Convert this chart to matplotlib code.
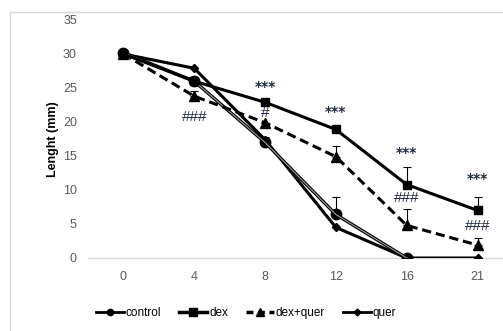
import matplotlib
matplotlib.use('Agg')
import matplotlib.pyplot as plt
from matplotlib.patches import Rectangle
from matplotlib.lines import Line2D

# data (control has no point at day 21)
days = ['0', '4', '8', '12', '16', '21']
control = [30.2, 26.0, 17.0, 6.4, 0.0, float('nan')]
dex = [30.0, 26.0, 22.9, 18.9, 10.8, 7.0]
dex_quer = [30.0, 23.8, 19.9, 14.9, 4.8, 1.9]
quer = [30.0, 27.9, 17.4, 4.5, 0.0, 0.0]

# upper error bars only
control_err = [0, 0, 0.8, 2.6, 0, 0]
dex_err = [0, 0, 0, 0, 2.6, 2.0]
dex_quer_err = [0, 0.8, 0, 1.6, 2.4, 1.0]

stars = ['', '', '***', '***', '***', '***']
stars_y = [0, 0, 25.2, 21.4, 15.5, 11.6]
hashes = ['', '###', '#', '', '###', '###']
hashes_y = [0, 20.7, 21.3, 0, 8.8, 4.7]

W, H = 503, 331
fig = plt.figure(figsize=(W / 100, H / 100), dpi=100)
plt.rcParams['font.family'] = ['Liberation Sans', 'DejaVu Sans']

# outer light border of the chart area
fig.patches.append(Rectangle((10 / W, -0.1), 1.2, (H - 12) / H + 0.1,
                             transform=fig.transFigure, fill=False,
                             edgecolor='#d9d9d9', linewidth=1))

ax = fig.add_axes([88 / W, (H - 258) / H, (W - 88) / W, 238 / H])
x = list(range(len(days)))

ax.errorbar(x, control, yerr=[[0] * 6, control_err], fmt='none', ecolor='black',
            elinewidth=0.8, capsize=3, capthick=0.8, zorder=2)
ax.errorbar(x, dex, yerr=[[0] * 6, dex_err], fmt='none', ecolor='black',
            elinewidth=0.8, capsize=3, capthick=0.8, zorder=2)
ax.errorbar(x, dex_quer, yerr=[[0] * 6, dex_quer_err], fmt='none', ecolor='black',
            elinewidth=0.8, capsize=3, capthick=0.8, zorder=2)

ax.plot(x, quer, color='black', lw=2.2, marker='D', ms=4.5, zorder=3)
ax.plot(x, control, color='black', lw=2.4, marker='o', ms=7.5, zorder=4)
ax.plot(x, control, color='#9a9a9a', lw=0.8, zorder=4)
ax.plot(x, dex, color='black', lw=2.2, marker='s', ms=6, zorder=5)
ax.plot(x, dex_quer, color='black', lw=2.2, ls=(0, (3, 1.6)), marker='^', ms=6.5, zorder=5)

for xi, s, yv in zip(x, stars, stars_y):
    if s:
        ax.text(xi, yv, s, ha='center', va='center', fontsize=10,
                fontweight='bold', color='#1f2a44', family='DejaVu Sans')
for xi, s, yv in zip(x, hashes, hashes_y):
    if s:
        ax.text(xi, yv, s, ha='center', va='center', fontsize=11,
                color='#1f2a44')

ax.set_xlim(-0.5, 5.36)
ax.set_ylim(0, 35)
ax.set_xticks(x)
ax.set_xticklabels(days)
ax.set_yticks(range(0, 36, 5))
ax.tick_params(length=0, labelsize=9, labelcolor='#595959', pad=8)
ax.tick_params(axis='x', pad=9)
for side in ['top', 'right', 'left']:
    ax.spines[side].set_visible(False)
ax.spines['bottom'].set_color('#d9d9d9')
ax.spines['bottom'].set_linewidth(1)
ax.set_ylabel('Lenght (mm)', fontsize=9, fontweight='bold', labelpad=3)

handles = [
    Line2D([], [], color='black', lw=2, marker='o', ms=4.5),
    Line2D([], [], color='black', lw=2.5, marker='s', ms=5.5),
    Line2D([], [], color='black', lw=2.5, ls=(0, (2, 1.3)), marker='^', ms=5.5),
    Line2D([], [], color='black', lw=2, marker='D', ms=3.5),
]
fig.legend(handles, ['control', 'dex', 'dex+quer', 'quer'], loc='center',
           bbox_to_anchor=(246 / W, (H - 313) / H), ncol=4, frameon=False,
           fontsize=8.5, handlelength=2.4, handletextpad=0.15, columnspacing=1.5)

plt.savefig('out.png', dpi=100)
